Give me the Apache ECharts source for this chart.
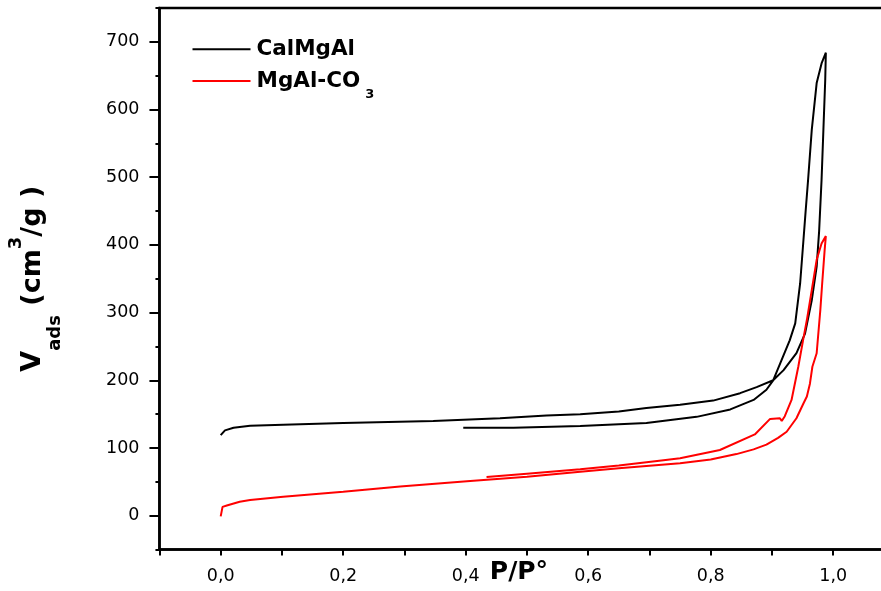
<!DOCTYPE html>
<html><head><meta charset="utf-8">
<script src="https://cdn.jsdelivr.net/npm/echarts@6/dist/echarts.min.js"></script>
<style>html,body{margin:0;padding:0;background:#fff}#c{width:881px;height:591px}</style>
</head><body><div id="c"></div>
<script>
const seriesNames = ['CalMgAl', 'MgAl-CO3'];
const seriesColors = ['#000000', '#ff0000'];

const calMgAlAdsorption = [
  [0.000,119],[0.007,126],[0.021,130],[0.048,133],[0.102,134.5],[0.200,137],[0.347,140],
  [0.456,144],[0.532,148],[0.587,150],[0.650,154],[0.695,159],[0.750,164],[0.804,170],
  [0.848,181],[0.875,190],[0.902,200],[0.919,215],[0.940,240],[0.954,269],[0.965,318],
  [0.973,368],[0.977,420],[0.981,496],[0.984,570],[0.987,644],[0.988,684]
];
const calMgAlDesorption = [
  [0.988,684],[0.981,668],[0.973,639],[0.965,570],[0.959,496],[0.955,450],[0.951,402],
  [0.946,343],[0.938,284],[0.929,259],[0.902,200],[0.891,186],[0.870,171],[0.832,157],
  [0.777,146],[0.695,137],[0.587,132.5],[0.478,130],[0.396,130]
];
const mgAlAdsorption = [
  [0.000,-1],[0.003,13],[0.010,15],[0.031,20.7],[0.048,23.2],[0.102,28],[0.200,35.5],
  [0.293,43],[0.402,51],[0.500,57.5],[0.587,65],[0.650,70],[0.750,77.4],[0.800,83],
  [0.842,91],[0.870,98],[0.891,105],[0.910,115],[0.924,124],[0.940,144],[0.951,165],
  [0.957,176],[0.962,195],[0.966,220],[0.973,240],[0.979,304],[0.982,343],[0.986,392],[0.988,413]
];
const mgAlDesorption = [
  [0.988,413],[0.981,402],[0.973,378],[0.965,333],[0.957,289],[0.951,260],[0.943,220],
  [0.932,171],[0.921,147],[0.916,140],[0.913,144],[0.897,143],[0.872,120],[0.815,97],
  [0.750,85],[0.723,82],[0.650,74],[0.587,68.5],[0.500,62],[0.434,57]
];

const xTickValues = [0.0, 0.2, 0.4, 0.6, 0.8, 1.0];
const xTickLabels = ['0,0', '0,2', '0,4', '0,6', '0,8', '1,0'];
const yTickValues = [0, 100, 200, 300, 400, 500, 600, 700];
const yTickLabels = ['0', '100', '200', '300', '400', '500', '600', '700'];

const FONT = 'DejaVu Sans';

function lookup(vals, labels, v) {
  for (let i = 0; i < vals.length; i++) if (Math.abs(vals[i] - v) < 1e-6) return labels[i];
  return '';
}

const chart = echarts.init(document.getElementById('c'), null, {renderer: 'canvas'});
const axisLineStyle = {color: '#000', width: 2.5};
chart.setOption({
  animation: false,
  backgroundColor: '#fff',
  grid: [
    {left: 159.45, right: -13.45, top: 7.95, bottom: 41.45, show: true, borderColor: '#000', borderWidth: 2.5,
     backgroundColor: 'transparent', outerBoundsMode: 'none', containLabel: false},
    {left: 159.45, right: -13.45, top: 41.8, bottom: 75.3, outerBoundsMode: 'none', containLabel: false}
  ],
  legend: {
    orient: 'vertical', left: 191.5, top: 38.2, padding: 0, itemWidth: 58, itemHeight: 14, itemGap: 0.3,
    data: seriesNames,
    itemStyle: {opacity: 0},
    formatter: function (name) { return name === 'MgAl-CO3' ? '{b|MgAl-CO}{s|3}' : '{b|' + name + '}'; },
    textStyle: {
      rich: {
        b: {fontFamily: FONT, fontWeight: 'bold', fontSize: 21.5, lineHeight: 33, color: '#000', padding: [0, 0, 0, 1]},
        s: {fontFamily: FONT, fontWeight: 'bold', fontSize: 13, lineHeight: 33, color: '#000', padding: [28, 0, 0, 5]}
      }
    }
  },
  xAxis: [
    {
      gridIndex: 0, type: 'value', min: -0.1, max: 1.1, interval: 0.1,
      axisLine: {show: true, onZero: false, lineStyle: axisLineStyle},
      axisTick: {show: true, length: 6, lineStyle: {color: '#000', width: 2}},
      axisLabel: {
        color: '#000', fontFamily: FONT, fontSize: 17.5, margin: 18,
        formatter: function (v) { return lookup(xTickValues, xTickLabels, v); }
      },
      splitLine: {show: false},
      name: 'P/P°', nameLocation: 'middle', nameGap: 8, nameMoveOverlap: false,
      nameTextStyle: {fontFamily: FONT, fontWeight: 'bold', fontSize: 25, lineHeight: 30, color: '#000', padding: [0, 16, 0, 0]}
    },
    {gridIndex: 1, type: 'value', min: -0.1, max: 1.1, show: false}
  ],
  yAxis: [
    {
      gridIndex: 0, type: 'value', min: -50, max: 750, interval: 50,
      axisLine: {show: true, onZero: false, lineStyle: axisLineStyle},
      axisTick: {show: true, length: 4, lineStyle: {color: '#000', width: 2}},
      axisLabel: {show: false},
      splitLine: {show: false},
      name: '{v|V}{sub|ads}{v| (cm}{sup|3}{v|/g )}',
      nameLocation: 'middle', nameGap: 106, nameMoveOverlap: false,
      nameTextStyle: {
        color: '#000',
        rich: {
          v: {fontFamily: FONT, fontWeight: 'bold', fontSize: 27, lineHeight: 40, color: '#000'},
          sub: {fontFamily: FONT, fontWeight: 'bold', fontSize: 18, lineHeight: 40, color: '#000', padding: [43, 0, 0, 0]},
          sup: {fontFamily: FONT, fontWeight: 'bold', fontSize: 18, lineHeight: 40, color: '#000', padding: [0, 0, 34, 0]}
        }
      }
    },
    {
      gridIndex: 1, type: 'value', min: 0, max: 700, interval: 100,
      axisLine: {show: false, onZero: false},
      axisTick: {show: true, length: 10, lineStyle: {color: '#000', width: 2}},
      axisLabel: {
        color: '#000', fontFamily: FONT, fontSize: 17.5, margin: 20,
        formatter: function (v) { return lookup(yTickValues, yTickLabels, v); }
      },
      splitLine: {show: false}
    }
  ],
  series: [
    {
      name: seriesNames[0], type: 'line', xAxisIndex: 0, yAxisIndex: 0,
      data: calMgAlAdsorption.concat(calMgAlDesorption),
      symbol: 'none', showSymbol: false, color: seriesColors[0],
      lineStyle: {color: seriesColors[0], width: 2}
    },
    {
      name: seriesNames[1], type: 'line', xAxisIndex: 0, yAxisIndex: 0,
      data: mgAlAdsorption.concat(mgAlDesorption),
      symbol: 'none', showSymbol: false, color: seriesColors[1],
      lineStyle: {color: seriesColors[1], width: 2}
    }
  ]
});
</script>
</body></html>
